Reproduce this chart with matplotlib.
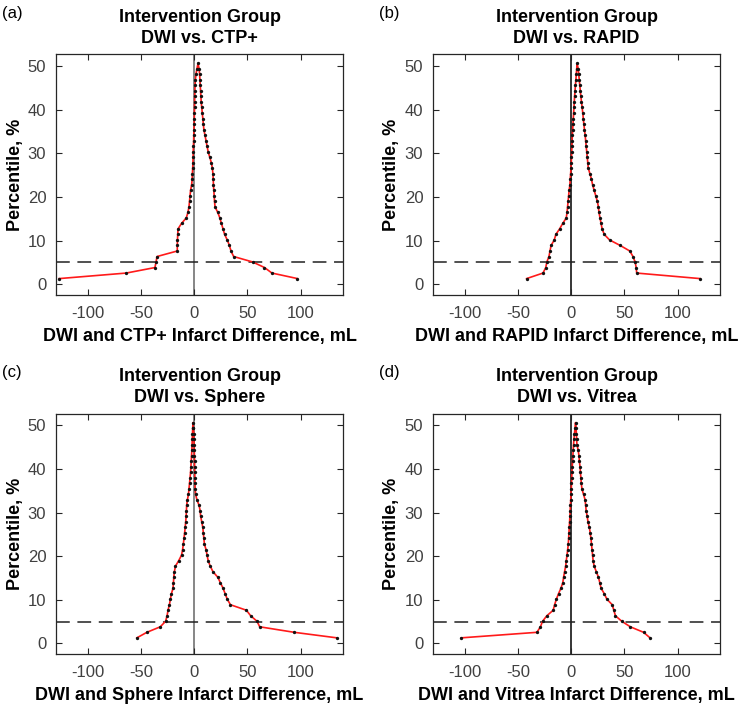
#!/usr/bin/env python
# coding: UTF-8

import numpy as np
import matplotlib
matplotlib.use('Agg')
from matplotlib import pyplot

pyplot.rcParams['font.family'] = ['Liberation Sans', 'DejaVu Sans']
pyplot.rcParams['axes.unicode_minus'] = False

# sorted infarct volume differences (DWI - CTP), mL, one entry per patient
ctp_diff = [-127, -64, -37, -36, -35, -16, -16, -15.8, -15.6, -15.3,
            -12, -7.5, -6, -5, -4.5, -4, -3.5, -2.5, -2, -1.8,
            -1.5, -1.3, -1.1, -1, -0.8, -0.6, -0.5, -0.3, -0.1, 0,
            0.1, 0.2, 0.3, 0.4, 0.5, 0.7, 1, 1.5, 2.5, 3.5,
            4.5, 5, 5.3, 5.6, 5.9, 6.2, 6.5, 7, 7.5, 8,
            8.5, 9, 10, 11, 12, 13, 14.5, 16, 17, 17.5,
            17.8, 18, 18.3, 18.7, 19, 19.5, 22, 24, 25.5, 27,
            28.5, 31, 33, 34.5, 37, 55, 66, 73, 97]

rapid_diff = [-42, -26.6, -24, -23, -21, -20, -19, -16, -14.5, -11,
              -8, -4.7, -4, -3.5, -3, -2.5, -2, -1.3, -1, -0.6,
              -0.3, 0, 0.2, 0.4, 0.6, 0.8, 1, 1.3, 1.6, 1.9,
              2.2, 2.5, 2.8, 3.1, 3.5, 3.9, 4.3, 4.7, 5.1, 5.5,
              6.5, 7, 7.5, 8, 8.5, 9, 9.6, 10.2, 10.8, 11.3,
              11.8, 12.4, 13, 13.5, 14, 14.5, 15, 15.5, 16, 17.5,
              19, 20, 21.5, 23, 24.5, 25.5, 26, 27, 28, 29,
              31, 36, 46, 55, 58, 60, 61, 61.5, 121]

sphere_diff = [-54, -44.6, -32, -27, -25.6, -24.7, -23.4, -22.5, -21.5, -20,
               -19.6, -19.3, -18.7, -17.7, -14.6, -12, -11, -10.3, -9.7, -9.1,
               -8.6, -8.1, -7.7, -7.4, -7.2, -6.5, -5.5, -5, -4.5, -4,
               -3.5, -3.2, -2.9, -2.6, -2.3, -2.1, -1.9, -1.7, -1.5, -1.2,
               -0.8, -0.5, -0.3, -0.1, 0, 0.1, 0.2, 0.3, 0.4, 0.5,
               0.6, 0.8, 1.2, 2.5, 4.5, 5.5, 6, 7, 8, 8.5,
               9, 9.5, 11, 12, 13, 15, 17.5, 22, 24.5, 27,
               29, 31, 34, 49, 53, 59, 61.5, 94, 134]

vitrea_diff = [-103.4, -32.3, -29, -27, -23, -17, -15.7, -14, -12, -9.7,
               -8, -7.2, -6.3, -5.3, -4.7, -4, -3.4, -2.8, -2.5, -2.2,
               -1.9, -1.6, -1.3, -1, -0.8, -0.5, -0.3, 0, 0.2, 0.4,
               0.6, 0.9, 1.2, 1.5, 1.8, 2.1, 2.5, 3, 3.5, 4,
               4.5, 4.8, 5, 5.3, 6.5, 7.2, 7.6, 8.2, 8.6, 9,
               9.4, 10, 11.5, 13, 13.5, 14, 15, 15.7, 17, 17.8,
               18.5, 19, 19.5, 20, 20.5, 21.5, 23.5, 25.5, 26.8, 28,
               31, 33.5, 38.5, 40, 41.5, 47.5, 55.5, 68, 74]

methods = ['CTP+', 'RAPID', 'Sphere', 'Vitrea']
panel_labels = ['(a)', '(b)', '(c)', '(d)']
x_ticks = [-100, -50, 0, 50, 100]
y_ticks = [0, 10, 20, 30, 40, 50]
cutoff = 5


def mountain(values):
    '''Folded empirical CDF (mountain plot percentiles)'''
    n = len(values)
    ranks = np.arange(1, n + 1)
    pct = 100.0 * ranks / n
    half = n // 2 + 1
    pct[half:] = 100.0 * (n + 1 - ranks[half:]) / n
    return pct


fig = pyplot.figure(figsize=(7.44, 7.10), dpi=100)

# axes boxes in figure fractions
boxes = [[0.0753, 0.5845, 0.386, 0.339],
         [0.582, 0.5845, 0.386, 0.339],
         [0.0753, 0.0785, 0.386, 0.339],
         [0.582, 0.0785, 0.386, 0.339]]
zero_colors = ['0.4', 'k', '0.4', 'k']
all_diffs = [ctp_diff, rapid_diff, sphere_diff, vitrea_diff]

for i in range(4):
    ax = fig.add_axes(boxes[i])
    diffs = np.array(all_diffs[i])
    pct = mountain(diffs)

    ax.axvline(0, color=zero_colors[i], lw=1.1, zorder=1)
    ax.axhline(cutoff, color='#202020', lw=1.1, dashes=(9, 5), zorder=1)
    ax.plot(diffs, pct, '-', color='#ff1a1a', lw=1.2, zorder=2)
    ax.plot(diffs, pct, 'o', color='#111111', ms=2.4, mew=0, zorder=3)

    ax.set_xlim(-130, 140)
    ax.set_ylim(-2.5, 52.7)
    ax.set_xticks(x_ticks)
    ax.set_yticks(y_ticks)
    ax.tick_params(direction='in', top=True, right=True, length=4,
                   width=0.8, labelsize=12, labelcolor='#404040',
                   color='#262626')
    ax.tick_params(axis='x', pad=8)
    ax.tick_params(axis='y', pad=7)
    for sp in ax.spines.values():
        sp.set_color('#262626')
        sp.set_linewidth(0.9)

    ax.set_title('Intervention Group\nDWI vs. ' + methods[i],
                 fontsize=13, fontweight='bold', pad=8, linespacing=1.35)
    ax.set_xlabel('DWI and ' + methods[i] + ' Infarct Difference, mL',
                  fontsize=13, fontweight='bold', labelpad=5)
    ax.set_ylabel('Percentile, %', fontsize=13, fontweight='bold',
                  labelpad=3)

    fig.text(boxes[i][0] - 0.072, boxes[i][1] + boxes[i][3] + 0.058,
             panel_labels[i], fontsize=12, ha='left', va='center')

fig.savefig('out.png', dpi=100)
